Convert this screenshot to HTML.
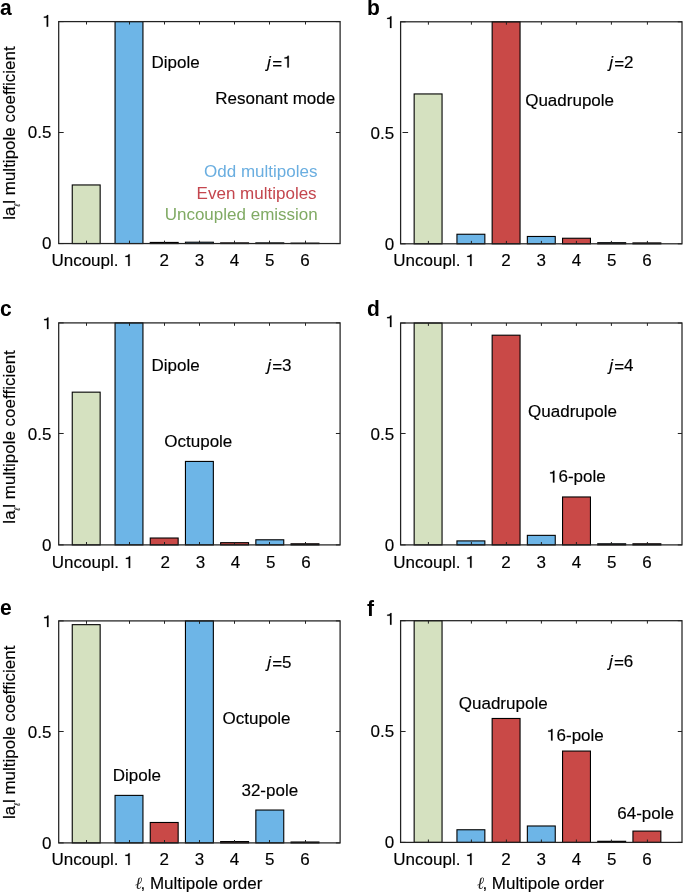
<!DOCTYPE html>
<html><head><meta charset="utf-8"><style>
html,body{margin:0;padding:0;background:#fff;}
svg{display:block;will-change:transform;}
text{font-family:"Liberation Sans", sans-serif;font-size:17.0px;stroke:#000;stroke-width:0.15px;}
</style></head><body>
<svg width="685" height="892" viewBox="0 0 685 892">
<defs><path id="one" d="M472 0H652V1409H522C492 1290 382 1220 132 1210V1080H472Z" stroke="#000" stroke-width="24"/></defs>
<rect width="685" height="892" fill="#fff"/>
<g transform="translate(0.00,0.00)">
<rect x="72.25" y="184.96" width="27.90" height="58.59" fill="#d5e1c0" stroke="#000" stroke-width="1.1"/>
<rect x="115.05" y="21.60" width="27.90" height="221.95" fill="#6db5e7" stroke="#000" stroke-width="1.1"/>
<rect x="150.25" y="242.44" width="27.90" height="1.11" fill="#c94947" stroke="#000" stroke-width="1.1"/>
<rect x="185.45" y="242.22" width="27.90" height="1.33" fill="#6db5e7" stroke="#000" stroke-width="1.1"/>
<rect x="220.65" y="242.88" width="27.90" height="0.67" fill="#c94947" stroke="#000" stroke-width="1.1"/>
<rect x="255.85" y="242.88" width="27.90" height="0.67" fill="#6db5e7" stroke="#000" stroke-width="1.1"/>
<rect x="291.05" y="243.11" width="27.90" height="0.44" fill="#c94947" stroke="#000" stroke-width="1.1"/>
<rect x="58.70" y="21.60" width="281.40" height="221.95" fill="none" stroke="#222" stroke-width="1.25"/>
<path d="M86.50 243.55v-2.9M86.50 21.60v2.9M129.50 243.55v-2.9M129.50 21.60v2.9M164.50 243.55v-2.9M164.50 21.60v2.9M199.50 243.55v-2.9M199.50 21.60v2.9M234.50 243.55v-2.9M234.50 21.60v2.9M269.50 243.55v-2.9M269.50 21.60v2.9M305.50 243.55v-2.9M305.50 21.60v2.9M58.70 243.55h5.0M340.10 243.55h-4.2M58.70 132.50h5.0M340.10 132.50h-4.2M58.70 21.60h5.0M340.10 21.60h-4.2" stroke="#222" stroke-width="1" fill="none"/>
<text x="51.50" y="249.45" text-anchor="end" fill="#000" >0</text>
<text x="51.50" y="138.47" text-anchor="end" fill="#000" >0.5</text>
<use href="#one" transform="translate(42.75,26.70) scale(0.008301,-0.008301)" fill="#000"/>
<text x="85.00" y="266.00" text-anchor="middle" fill="#000" >Uncoupl.</text>
<use href="#one" transform="translate(124.27,266.00) scale(0.008301,-0.008301)" fill="#000"/>
<text x="164.20" y="266.00" text-anchor="middle" fill="#000" >2</text>
<text x="199.40" y="266.00" text-anchor="middle" fill="#000" >3</text>
<text x="234.60" y="266.00" text-anchor="middle" fill="#000" >4</text>
<text x="269.80" y="266.00" text-anchor="middle" fill="#000" >5</text>
<text x="305.00" y="266.00" text-anchor="middle" fill="#000" >6</text>
<text transform="translate(15.0,133.00) rotate(-90)" text-anchor="middle">l<tspan>a</tspan><tspan font-size="8.5" font-style="italic" dy="5" fill="#333" stroke="#333" stroke-width="0.2">ℓ</tspan><tspan dy="-5">l multipole coefficient</tspan></text>
</g>
<text transform="translate(0,14.9) scale(1,1.06)" style="font-weight:bold;font-size:21px;stroke:none">a</text>
<text x="267.10" y="67.50" font-style="italic">j</text>
<text x="272.19" y="68.60">=</text>
<use href="#one" transform="translate(283.40,67.50) scale(0.008301,-0.008301)" fill="#000"/>
<g transform="translate(341.90,0.00)">
<rect x="72.25" y="93.95" width="27.90" height="149.85" fill="#d5e1c0" stroke="#000" stroke-width="1.1"/>
<rect x="115.05" y="234.25" width="27.90" height="9.55" fill="#6db5e7" stroke="#000" stroke-width="1.1"/>
<rect x="150.25" y="21.80" width="27.90" height="222.00" fill="#c94947" stroke="#000" stroke-width="1.1"/>
<rect x="185.45" y="236.47" width="27.90" height="7.33" fill="#6db5e7" stroke="#000" stroke-width="1.1"/>
<rect x="220.65" y="238.25" width="27.90" height="5.55" fill="#c94947" stroke="#000" stroke-width="1.1"/>
<rect x="255.85" y="242.69" width="27.90" height="1.11" fill="#6db5e7" stroke="#000" stroke-width="1.1"/>
<rect x="291.05" y="242.91" width="27.90" height="0.89" fill="#c94947" stroke="#000" stroke-width="1.1"/>
<rect x="58.70" y="21.80" width="281.40" height="222.00" fill="none" stroke="#222" stroke-width="1.25"/>
<path d="M86.50 243.80v-2.9M86.50 21.80v2.9M129.50 243.80v-2.9M129.50 21.80v2.9M164.50 243.80v-2.9M164.50 21.80v2.9M199.50 243.80v-2.9M199.50 21.80v2.9M234.50 243.80v-2.9M234.50 21.80v2.9M269.50 243.80v-2.9M269.50 21.80v2.9M305.50 243.80v-2.9M305.50 21.80v2.9M58.70 243.80h5.0M340.10 243.80h-4.2M60.60 132.50h5.6M340.10 132.50h-4.2M58.70 21.80h5.0M340.10 21.80h-4.2" stroke="#222" stroke-width="1" fill="none"/>
<text x="52.30" y="249.70" text-anchor="end" fill="#000" >0</text>
<text x="52.30" y="138.70" text-anchor="end" fill="#000" >0.5</text>
<use href="#one" transform="translate(44.15,28.00) scale(0.008301,-0.008301)" fill="#000"/>
<text x="85.00" y="266.00" text-anchor="middle" fill="#000" >Uncoupl.</text>
<use href="#one" transform="translate(124.27,266.00) scale(0.008301,-0.008301)" fill="#000"/>
<text x="164.20" y="266.00" text-anchor="middle" fill="#000" >2</text>
<text x="199.40" y="266.00" text-anchor="middle" fill="#000" >3</text>
<text x="234.60" y="266.00" text-anchor="middle" fill="#000" >4</text>
<text x="269.80" y="266.00" text-anchor="middle" fill="#000" >5</text>
<text x="305.00" y="266.00" text-anchor="middle" fill="#000" >6</text>
</g>
<text transform="translate(367,14.7) scale(1,1.06)" style="font-weight:bold;font-size:21px;stroke:none">b</text>
<text x="609.20" y="67.80" font-style="italic">j</text>
<text x="614.29" y="68.90">=</text>
<text x="624.00" y="67.80">2</text>
<g transform="translate(0.00,301.30)">
<rect x="72.25" y="90.86" width="27.90" height="152.74" fill="#d5e1c0" stroke="#000" stroke-width="1.1"/>
<rect x="115.05" y="21.60" width="27.90" height="222.00" fill="#6db5e7" stroke="#000" stroke-width="1.1"/>
<rect x="150.25" y="236.72" width="27.90" height="6.88" fill="#c94947" stroke="#000" stroke-width="1.1"/>
<rect x="185.45" y="160.13" width="27.90" height="83.47" fill="#6db5e7" stroke="#000" stroke-width="1.1"/>
<rect x="220.65" y="241.38" width="27.90" height="2.22" fill="#c94947" stroke="#000" stroke-width="1.1"/>
<rect x="255.85" y="238.49" width="27.90" height="5.11" fill="#6db5e7" stroke="#000" stroke-width="1.1"/>
<rect x="291.05" y="242.49" width="27.90" height="1.11" fill="#c94947" stroke="#000" stroke-width="1.1"/>
<rect x="58.70" y="21.60" width="281.40" height="222.00" fill="none" stroke="#222" stroke-width="1.25"/>
<path d="M86.50 243.60v-2.9M86.50 21.60v2.9M129.50 243.60v-2.9M129.50 21.60v2.9M164.50 243.60v-2.9M164.50 21.60v2.9M199.50 243.60v-2.9M199.50 21.60v2.9M234.50 243.60v-2.9M234.50 21.60v2.9M269.50 243.60v-2.9M269.50 21.60v2.9M305.50 243.60v-2.9M305.50 21.60v2.9M58.70 243.60h5.0M340.10 243.60h-4.2M58.70 132.20h5.0M340.10 132.20h-4.2M58.70 21.60h5.0M340.10 21.60h-4.2" stroke="#222" stroke-width="1" fill="none"/>
<text x="51.50" y="249.50" text-anchor="end" fill="#000" >0</text>
<text x="51.50" y="138.50" text-anchor="end" fill="#000" >0.5</text>
<use href="#one" transform="translate(43.05,27.80) scale(0.008301,-0.008301)" fill="#000"/>
<text x="85.40" y="266.70" text-anchor="middle" fill="#000" >Uncoupl.</text>
<use href="#one" transform="translate(124.77,266.70) scale(0.008301,-0.008301)" fill="#000"/>
<text x="165.20" y="266.70" text-anchor="middle" fill="#000" >2</text>
<text x="200.40" y="266.70" text-anchor="middle" fill="#000" >3</text>
<text x="235.60" y="266.70" text-anchor="middle" fill="#000" >4</text>
<text x="270.80" y="266.70" text-anchor="middle" fill="#000" >5</text>
<text x="306.00" y="266.70" text-anchor="middle" fill="#000" >6</text>
<text transform="translate(15.0,135.60) rotate(-90)" text-anchor="middle">l<tspan>a</tspan><tspan font-size="8.5" font-style="italic" dy="5" fill="#333" stroke="#333" stroke-width="0.2">ℓ</tspan><tspan dy="-5">l multipole coefficient</tspan></text>
</g>
<text transform="translate(0,316.2) scale(1,1.06)" style="font-weight:bold;font-size:21px;stroke:none">c</text>
<text x="267.20" y="370.80" font-style="italic">j</text>
<text x="272.29" y="371.90">=</text>
<text x="282.00" y="370.80">3</text>
<g transform="translate(341.90,301.30)">
<rect x="72.25" y="21.70" width="27.90" height="221.90" fill="#d5e1c0" stroke="#000" stroke-width="1.1"/>
<rect x="115.05" y="239.61" width="27.90" height="3.99" fill="#6db5e7" stroke="#000" stroke-width="1.1"/>
<rect x="150.25" y="33.90" width="27.90" height="209.70" fill="#c94947" stroke="#000" stroke-width="1.1"/>
<rect x="185.45" y="234.06" width="27.90" height="9.54" fill="#6db5e7" stroke="#000" stroke-width="1.1"/>
<rect x="220.65" y="195.67" width="27.90" height="47.93" fill="#c94947" stroke="#000" stroke-width="1.1"/>
<rect x="255.85" y="242.49" width="27.90" height="1.11" fill="#6db5e7" stroke="#000" stroke-width="1.1"/>
<rect x="291.05" y="242.49" width="27.90" height="1.11" fill="#c94947" stroke="#000" stroke-width="1.1"/>
<rect x="58.70" y="21.70" width="281.40" height="221.90" fill="none" stroke="#222" stroke-width="1.25"/>
<path d="M86.50 243.60v-2.9M86.50 21.70v2.9M129.50 243.60v-2.9M129.50 21.70v2.9M164.50 243.60v-2.9M164.50 21.70v2.9M199.50 243.60v-2.9M199.50 21.70v2.9M234.50 243.60v-2.9M234.50 21.70v2.9M269.50 243.60v-2.9M269.50 21.70v2.9M305.50 243.60v-2.9M305.50 21.70v2.9M58.70 243.60h5.0M340.10 243.60h-4.2M58.70 132.20h5.0M340.10 132.20h-4.2M58.70 21.70h5.0M340.10 21.70h-4.2" stroke="#222" stroke-width="1" fill="none"/>
<text x="52.30" y="249.50" text-anchor="end" fill="#000" >0</text>
<text x="52.30" y="138.55" text-anchor="end" fill="#000" >0.5</text>
<use href="#one" transform="translate(44.15,25.80) scale(0.008301,-0.008301)" fill="#000"/>
<text x="85.00" y="266.50" text-anchor="middle" fill="#000" >Uncoupl.</text>
<use href="#one" transform="translate(124.27,266.50) scale(0.008301,-0.008301)" fill="#000"/>
<text x="164.20" y="266.50" text-anchor="middle" fill="#000" >2</text>
<text x="199.40" y="266.50" text-anchor="middle" fill="#000" >3</text>
<text x="234.60" y="266.50" text-anchor="middle" fill="#000" >4</text>
<text x="269.80" y="266.50" text-anchor="middle" fill="#000" >5</text>
<text x="305.00" y="266.50" text-anchor="middle" fill="#000" >6</text>
</g>
<text transform="translate(367,315.8) scale(1,1.06)" style="font-weight:bold;font-size:21px;stroke:none">d</text>
<text x="609.20" y="370.60" font-style="italic">j</text>
<text x="614.29" y="371.70">=</text>
<text x="624.00" y="370.60">4</text>
<g transform="translate(0.00,599.30)">
<rect x="72.25" y="25.37" width="27.90" height="218.23" fill="#d5e1c0" stroke="#000" stroke-width="1.1"/>
<rect x="115.05" y="196.09" width="27.90" height="47.51" fill="#6db5e7" stroke="#000" stroke-width="1.1"/>
<rect x="150.25" y="223.18" width="27.90" height="20.42" fill="#c94947" stroke="#000" stroke-width="1.1"/>
<rect x="185.45" y="21.60" width="27.90" height="222.00" fill="#6db5e7" stroke="#000" stroke-width="1.1"/>
<rect x="220.65" y="242.27" width="27.90" height="1.33" fill="#c94947" stroke="#000" stroke-width="1.1"/>
<rect x="255.85" y="210.74" width="27.90" height="32.86" fill="#6db5e7" stroke="#000" stroke-width="1.1"/>
<rect x="291.05" y="242.71" width="27.90" height="0.89" fill="#c94947" stroke="#000" stroke-width="1.1"/>
<rect x="58.70" y="21.60" width="281.40" height="222.00" fill="none" stroke="#222" stroke-width="1.25"/>
<path d="M86.50 243.60v-2.9M86.50 21.60v2.9M129.50 243.60v-2.9M129.50 21.60v2.9M164.50 243.60v-2.9M164.50 21.60v2.9M199.50 243.60v-2.9M199.50 21.60v2.9M234.50 243.60v-2.9M234.50 21.60v2.9M269.50 243.60v-2.9M269.50 21.60v2.9M305.50 243.60v-2.9M305.50 21.60v2.9M58.70 243.60h5.0M340.10 243.60h-4.2M58.70 132.20h5.0M340.10 132.20h-4.2M58.70 21.60h5.0M340.10 21.60h-4.2" stroke="#222" stroke-width="1" fill="none"/>
<text x="51.50" y="249.50" text-anchor="end" fill="#000" >0</text>
<text x="51.50" y="138.50" text-anchor="end" fill="#000" >0.5</text>
<use href="#one" transform="translate(43.10,27.80) scale(0.008301,-0.008301)" fill="#000"/>
<text x="85.00" y="265.60" text-anchor="middle" fill="#000" >Uncoupl.</text>
<use href="#one" transform="translate(124.27,265.60) scale(0.008301,-0.008301)" fill="#000"/>
<text x="164.20" y="265.60" text-anchor="middle" fill="#000" >2</text>
<text x="199.40" y="265.60" text-anchor="middle" fill="#000" >3</text>
<text x="234.60" y="265.60" text-anchor="middle" fill="#000" >4</text>
<text x="269.80" y="265.60" text-anchor="middle" fill="#000" >5</text>
<text x="305.00" y="265.60" text-anchor="middle" fill="#000" >6</text>
<text transform="translate(15.0,133.00) rotate(-90)" text-anchor="middle">l<tspan>a</tspan><tspan font-size="8.5" font-style="italic" dy="5" fill="#333" stroke="#333" stroke-width="0.2">ℓ</tspan><tspan dy="-5">l multipole coefficient</tspan></text>
</g>
<text transform="translate(0,615.4) scale(1,1.06)" style="font-weight:bold;font-size:21px;stroke:none">e</text>
<text x="267.20" y="667.60" font-style="italic">j</text>
<text x="272.29" y="668.70">=</text>
<text x="282.00" y="667.60">5</text>
<g transform="translate(341.90,599.30)">
<rect x="72.25" y="21.40" width="27.90" height="221.70" fill="#d5e1c0" stroke="#000" stroke-width="1.1"/>
<rect x="115.05" y="230.46" width="27.90" height="12.64" fill="#6db5e7" stroke="#000" stroke-width="1.1"/>
<rect x="150.25" y="119.17" width="27.90" height="123.93" fill="#c94947" stroke="#000" stroke-width="1.1"/>
<rect x="185.45" y="226.69" width="27.90" height="16.41" fill="#6db5e7" stroke="#000" stroke-width="1.1"/>
<rect x="220.65" y="151.76" width="27.90" height="91.34" fill="#c94947" stroke="#000" stroke-width="1.1"/>
<rect x="255.85" y="241.99" width="27.90" height="1.11" fill="#6db5e7" stroke="#000" stroke-width="1.1"/>
<rect x="291.05" y="231.79" width="27.90" height="11.31" fill="#c94947" stroke="#000" stroke-width="1.1"/>
<rect x="58.70" y="21.40" width="281.40" height="221.70" fill="none" stroke="#222" stroke-width="1.25"/>
<path d="M86.50 243.10v-2.9M86.50 21.40v2.9M129.50 243.10v-2.9M129.50 21.40v2.9M164.50 243.10v-2.9M164.50 21.40v2.9M199.50 243.10v-2.9M199.50 21.40v2.9M234.50 243.10v-2.9M234.50 21.40v2.9M269.50 243.10v-2.9M269.50 21.40v2.9M305.50 243.10v-2.9M305.50 21.40v2.9M58.70 243.10h5.0M340.10 243.10h-4.2M58.70 132.20h5.0M340.10 132.20h-4.2M58.70 21.40h5.0M340.10 21.40h-4.2" stroke="#222" stroke-width="1" fill="none"/>
<text x="52.30" y="249.00" text-anchor="end" fill="#000" >0</text>
<text x="52.30" y="138.15" text-anchor="end" fill="#000" >0.5</text>
<use href="#one" transform="translate(44.20,25.40) scale(0.008301,-0.008301)" fill="#000"/>
<text x="85.00" y="265.60" text-anchor="middle" fill="#000" >Uncoupl.</text>
<use href="#one" transform="translate(124.27,265.60) scale(0.008301,-0.008301)" fill="#000"/>
<text x="164.20" y="265.60" text-anchor="middle" fill="#000" >2</text>
<text x="199.40" y="265.60" text-anchor="middle" fill="#000" >3</text>
<text x="234.60" y="265.60" text-anchor="middle" fill="#000" >4</text>
<text x="269.80" y="265.60" text-anchor="middle" fill="#000" >5</text>
<text x="305.00" y="265.60" text-anchor="middle" fill="#000" >6</text>
</g>
<text transform="translate(367,615.6) scale(1,1.06)" style="font-weight:bold;font-size:21px;stroke:none">f</text>
<text x="609.00" y="667.10" font-style="italic">j</text>
<text x="614.09" y="668.20">=</text>
<text x="623.80" y="667.10">6</text>
<text x="151.51" y="67.60" text-anchor="start" fill="#000" >Dipole</text>
<text x="215.21" y="104.00" text-anchor="start" fill="#000" >Resonant mode</text>
<text x="204.09" y="177.00" text-anchor="start" fill="#6aaee0" style="stroke:none" >Odd multipoles</text>
<text x="196.61" y="198.50" text-anchor="start" fill="#c4464e" style="stroke:none" >Even multipoles</text>
<text x="164.69" y="219.90" text-anchor="start" fill="#80aa64" style="stroke:none" >Uncoupled emission</text>
<text x="525.19" y="105.75" text-anchor="start" fill="#000" >Quadrupole</text>
<text x="151.51" y="371.00" text-anchor="start" fill="#000" >Dipole</text>
<text x="164.29" y="446.60" text-anchor="start" fill="#000" >Octupole</text>
<text x="528.09" y="416.80" text-anchor="start" fill="#000" >Quadrupole</text>
<use href="#one" transform="translate(549.01,482.40) scale(0.008301,-0.008301)" fill="#000"/>
<text x="558.46" y="482.40" text-anchor="start" fill="#000" >6-pole</text>
<text x="222.49" y="723.70" text-anchor="start" fill="#000" >Octupole</text>
<text x="112.71" y="780.60" text-anchor="start" fill="#000" >Dipole</text>
<text x="241.45" y="796.20" text-anchor="start" fill="#000" >32-pole</text>
<text x="458.79" y="708.60" text-anchor="start" fill="#000" >Quadrupole</text>
<use href="#one" transform="translate(547.11,740.60) scale(0.008301,-0.008301)" fill="#000"/>
<text x="556.56" y="740.60" text-anchor="start" fill="#000" >6-pole</text>
<text x="617.24" y="819.20" text-anchor="start" fill="#000" >64-pole</text>
<text x="135.00" y="888.5" style="font-family:Liberation Serif;font-style:italic;stroke:none" fill="#222">ℓ</text>
<text x="140.50" y="888.5">, Multipole order</text>
<text x="476.90" y="888.5" style="font-family:Liberation Serif;font-style:italic;stroke:none" fill="#222">ℓ</text>
<text x="482.40" y="888.5">, Multipole order</text>
</svg>
</body></html>
